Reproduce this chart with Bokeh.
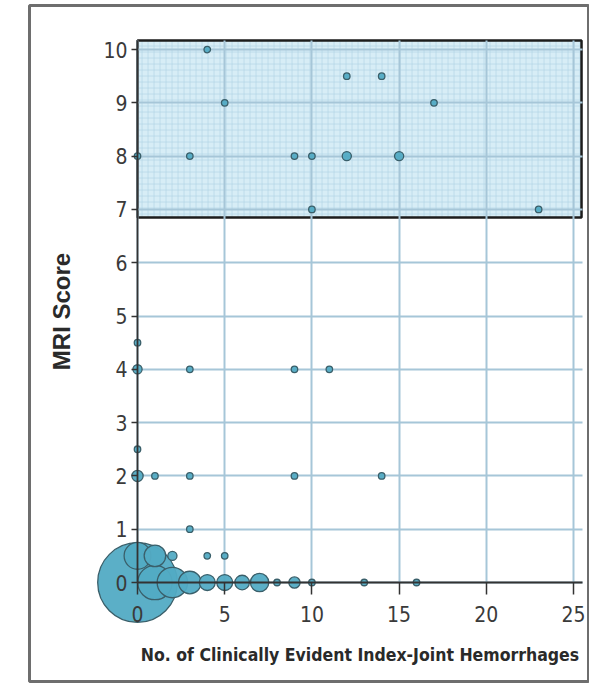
import math
from bokeh.plotting import figure
from bokeh.models import FixedTicker, BoxAnnotation, ColumnDataSource, Range1d
from bokeh.embed import file_html
from bokeh.resources import INLINE

# Data: (index-joint hemorrhages, MRI score, number of patients at that point)
hemorrhages = [4, 5, 0, 3, 9, 10, 12, 15, 12, 14, 17, 10, 23,
               0, 0, 3, 9, 11,
               0, 0, 1, 3, 9, 14,
               3,
               0, 1, 2, 4, 5,
               0, 1, 2, 3, 4, 5, 6, 7, 8, 9, 10, 13, 16]
mri_score = [10, 9, 8, 8, 8, 8, 8, 8, 9.5, 9.5, 9, 7, 7,
             4.5, 4, 4, 4, 4,
             2.5, 2, 2, 2, 2, 2,
             1,
             0.5, 0.5, 0.5, 0.5, 0.5,
             0, 0, 0, 0, 0, 0, 0, 0, 0, 0, 0, 0, 0]
patients = [1, 1, 1, 1, 1, 1, 2, 2, 1, 1, 1, 1, 1,
            1, 2, 1, 1, 1,
            1, 3, 1, 1, 1, 1,
            1,
            17, 11, 2, 1, 1,
            150, 28, 22, 12, 6, 6, 5, 8, 1, 3, 1, 1, 1]

x_ticks = [0, 5, 10, 15, 20, 25]
y_ticks = [0, 1, 2, 3, 4, 5, 6, 7, 8, 9, 10]
x_title = "No. of Clinically Evident Index-Joint Hemorrhages"
y_title = "MRI Score"

sizes = [6.5 * math.sqrt(n) for n in patients]
order = sorted(range(len(sizes)), key=lambda i: -sizes[i])
src = ColumnDataSource(dict(
    x=[hemorrhages[i] for i in order],
    y=[mri_score[i] for i in order],
    s=[sizes[i] for i in order],
))

p = figure(width=589, height=683, output_backend="svg", toolbar_location=None,
           x_range=Range1d(-6.193, 25.917), y_range=Range1d(-1.857, 10.826),
           min_border_left=29, min_border_right=0, min_border_top=5,
           min_border_bottom=2)
p.background_fill_color = "white"
p.border_fill_color = "white"
p.outline_line_color = "#6e6e6e"
p.outline_line_width = 3

# shaded box (high MRI scores)
box = BoxAnnotation(left=0, right=25.46, bottom=6.85, top=10.17,
                    fill_color="#d7edf6", fill_alpha=1.0,
                    hatch_pattern="+", hatch_color="#add2e3", hatch_scale=6,
                    hatch_weight=1, hatch_alpha=0.6,
                    line_color="#1c1c1c", line_alpha=1.0, line_width=2.5,
                    level="image")
p.add_layout(box)

p.scatter("x", "y", size="s", source=src, fill_color="#52abc4", fill_alpha=0.95,
          line_color="#3a5f6a", line_width=1.3)

TICK_FONT = "'DejaVu Sans Condensed', 'Liberation Sans Narrow', sans-serif"

xa = p.xaxis[0]
xa.fixed_location = 0
xa.bounds = (0, 25.5)
xa.ticker = FixedTicker(ticks=x_ticks)
xa.minor_tick_line_color = None
xa.major_tick_in = 0
xa.major_tick_out = 12
xa.major_tick_line_color = "#333333"
xa.major_tick_line_width = 1.5
xa.axis_line_color = "#333333"
xa.axis_line_width = 1.8
xa.major_label_text_font = TICK_FONT
xa.major_label_text_font_size = "21px"
xa.major_label_text_color = "#3a3a3a"
xa.major_label_standoff = 11
xa.axis_label = x_title
xa.axis_label_text_font = TICK_FONT
xa.axis_label_text_font_style = "bold"
xa.axis_label_text_font_size = "17.5px"
xa.axis_label_text_color = "#2a2a2a"
xa.axis_label_standoff = 20

ya = p.yaxis[0]
ya.fixed_location = 0
ya.bounds = (0, 10.17)
ya.ticker = FixedTicker(ticks=y_ticks)
ya.minor_tick_line_color = None
ya.major_tick_in = 0
ya.major_tick_out = 6
ya.major_tick_line_color = "#333333"
ya.major_tick_line_width = 1.5
ya.axis_line_color = "#333333"
ya.axis_line_width = 1.8
ya.major_label_text_font = TICK_FONT
ya.major_label_text_font_size = "21px"
ya.major_label_text_color = "#3a3a3a"
ya.major_label_standoff = 4
ya.axis_label = y_title
ya.axis_label_text_font = "Liberation Sans"
ya.axis_label_text_font_style = "bold"
ya.axis_label_text_font_size = "24px"
ya.axis_label_text_color = "#2a2a2a"
ya.axis_label_standoff = 25

xg = p.xgrid[0]
xg.cross_bounds = (0, 10.17)
xg.grid_line_color = "#a6c6d8"
xg.grid_line_width = 2
yg = p.ygrid[0]
yg.cross_bounds = (0, 25.5)
yg.grid_line_color = "#a6c6d8"
yg.grid_line_width = 2

open("out.html", "w").write(file_html(p, INLINE))
